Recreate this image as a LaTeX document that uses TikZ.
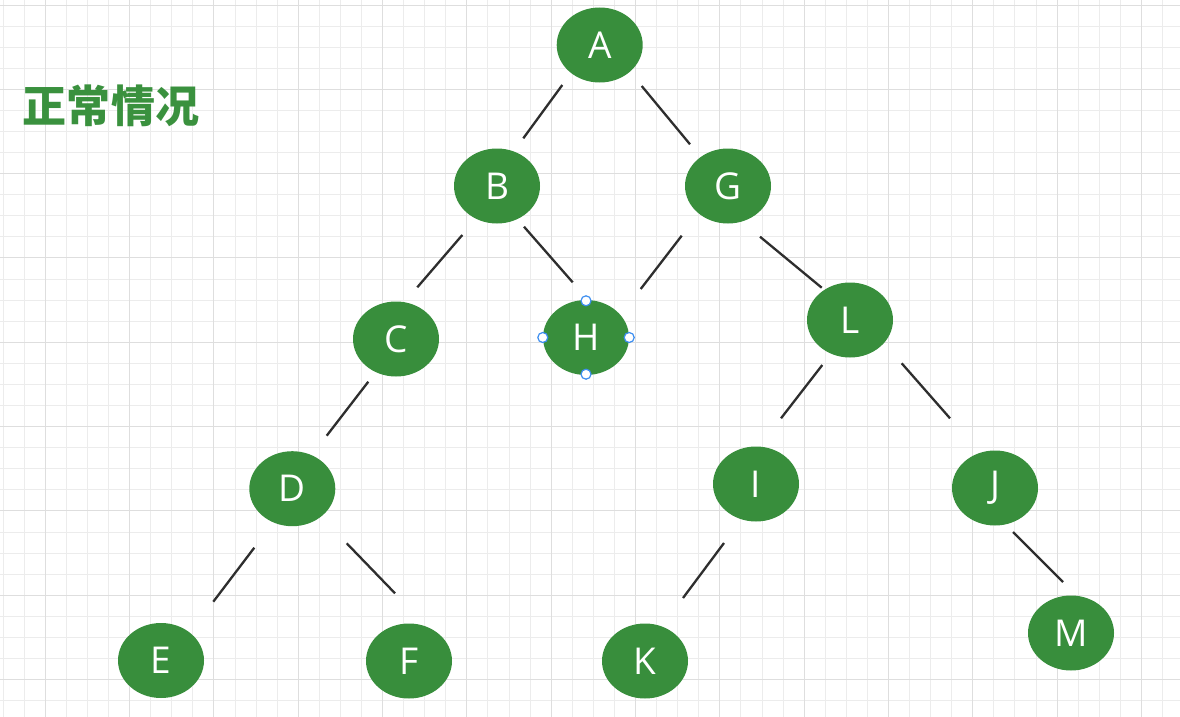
\documentclass[tikz,border=0pt]{standalone}
\usepackage{fontspec}
\setmainfont{Open Sans}
\newfontfamily\cjk{Noto Sans CJK SC}
\usetikzlibrary{shapes.geometric}
\definecolor{nodegreen}{HTML}{388E3C}
\definecolor{titlegreen}{HTML}{3A913E}
\definecolor{minorgrid}{HTML}{ECECEC}
\definecolor{majorgrid}{HTML}{DEDEDE}
\definecolor{edgegray}{HTML}{2E2E2E}
\definecolor{handleblue}{HTML}{3D8EF0}
\tikzset{
  tnode/.style={ellipse, fill=nodegreen, draw=none, minimum width=86pt, minimum height=75pt,
    inner sep=0pt, text=white, font=\fontsize{37}{37}\selectfont},
  edge/.style={draw=edgegray, line width=2.3pt},
  minorline/.style={draw=minorgrid, line width=1pt},
  majorline/.style={draw=majorgrid, line width=1pt},
  handle/.style={circle, draw=handleblue, fill=white, line width=1.2pt, minimum size=10pt, inner sep=0pt},
}
\begin{document}
\begin{tikzpicture}[x=1pt, y=-1pt]
\fill[white] (0,0) rectangle (1180,717);
\useasboundingbox (0,0) rectangle (1180,717);
% grid
\foreach \k in {0,...,56} {
  \pgfmathsetmacro\gx{floor(3.14+21.08*\k)+0.5}
  \draw[minorline] (\gx,0) -- (\gx,717);
}
\foreach \k in {0,...,34} {
  \pgfmathsetmacro\gy{floor(5+21.08*\k)+0.5}
  \draw[minorline] (0,\gy) -- (1180,\gy);
}
\foreach \k in {0,...,13} {
  \pgfmathsetmacro\gx{floor(45.3+84.32*\k)+0.5}
  \draw[majorline] (\gx,0) -- (\gx,717);
}
\foreach \k in {0,...,8} {
  \pgfmathsetmacro\gy{floor(5+84.32*\k)+0.5}
  \draw[majorline] (0,\gy) -- (1180,\gy);
}
% title
\node[text=titlegreen, font=\cjk\bfseries\fontsize{44}{44}\selectfont, anchor=center] (title) at (111,106) {正常情况};
% nodes
\node[tnode] (A) at (599.7,45) {A};
\node[tnode] (B) at (497,186) {B};
\node[tnode] (G) at (728,186) {G};
\node[tnode] (C) at (396,339) {C};
\node[tnode] (H) at (586,337.5) {H};
\node[tnode] (L) at (850,320) {L};
\node[tnode] (D) at (292.3,488.7) {D};
\node[tnode] (I) at (756,484) {I};
\node[tnode] (J) at (995,488) {J};
\node[tnode] (E) at (161,660.5) {E};
\node[tnode] (F) at (409,661) {F};
\node[tnode] (K) at (645,661) {K};
\node[tnode] (M) at (1071,633) {M};
% edges
\draw[edge] ([shift={(-37.4,40)}]A.center) -- ([shift={(26.3,-47.7)}]B.center);
\draw[edge] ([shift={(42,41)}]A.center) -- ([shift={(-38,-41.7)}]G.center);
\draw[edge] ([shift={(-34.7,49)}]B.center) -- ([shift={(21.3,-51.7)}]C.center);
\draw[edge] ([shift={(27,40.7)}]B.center) -- ([shift={(-13.3,-55.2)}]H.center);
\draw[edge] ([shift={(-46.3,49.7)}]G.center) -- ([shift={(54.7,-48.5)}]H.center);
\draw[edge] ([shift={(32,50.7)}]G.center) -- ([shift={(-28.3,-32.3)}]L.center);
\draw[edge] ([shift={(-27.7,45)}]L.center) -- ([shift={(25,-65.7)}]I.center);
\draw[edge] ([shift={(51.7,43.3)}]L.center) -- ([shift={(-45,-69.7)}]J.center);
\draw[edge] ([shift={(-27.7,42.7)}]C.center) -- ([shift={(34.4,-53)}]D.center);
\draw[edge] ([shift={(-38,59)}]D.center) -- ([shift={(52.3,-58.8)}]E.center);
\draw[edge] ([shift={(54.4,54.6)}]D.center) -- ([shift={(-14,-67.7)}]F.center);
\draw[edge] ([shift={(-32,59)}]I.center) -- ([shift={(38,-63)}]K.center);
\draw[edge] ([shift={(18,44)}]J.center) -- ([shift={(-8,-51)}]M.center);
% selection handles on H
\node[handle] (hn) at ([yshift=-1pt]H.north) {};
\node[handle] (hs) at ([yshift=1pt]H.south) {};
\node[handle] (hw) at (H.west) {};
\node[handle] (he) at (H.east) {};
\end{tikzpicture}
\end{document}
